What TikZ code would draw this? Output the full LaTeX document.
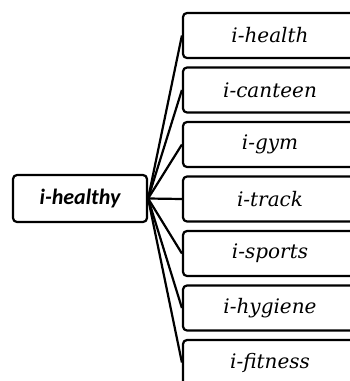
\documentclass[tikz,border=0pt]{standalone}
\usepackage{fontspec}
\newfontfamily\itemfont{DejaVu Serif}
\newfontfamily\hubfont{Carlito}
\begin{document}
\begin{tikzpicture}[x=1pt,y=-1pt,
  box/.style={draw=black, line width=2.2pt, rounded corners=4pt, fill=white,
    inner sep=0pt},
  itembox/.style={box, minimum width=174pt, minimum height=45pt,
    font=\itemfont\itshape\fontsize{20}{24}\selectfont},
  hubbox/.style={box, minimum width=134pt, minimum height=47pt,
    font=\hubfont\bfseries\itshape\fontsize{22}{26}\selectfont},
  link/.style={line width=2.2pt}]
\useasboundingbox (0,0) rectangle (350,381);
\clip (0,0) rectangle (350,381);

% central topic
\node[hubbox] (hub) at (80,198.5) {i-healthy};

% sub-topics stacked on the right
\node[itembox] (health)  at (270,35.5)  {i-health};
\node[itembox] (canteen) at (270,90)    {i-canteen};
\node[itembox] (gym)     at (270,144.5) {i-gym};
\node[itembox] (track)   at (270,199)   {i-track};
\node[itembox] (sports)  at (270,253.5) {i-sports};
\node[itembox] (hygiene) at (270,308)   {i-hygiene};
\node[itembox] (fitness) at (270,362.5) {i-fitness};

% fan of connectors from the central topic
\foreach \t in {health,canteen,gym,track,sports,hygiene,fitness}
  \draw[link] (hub.east) -- (\t.west);
\end{tikzpicture}
\end{document}
